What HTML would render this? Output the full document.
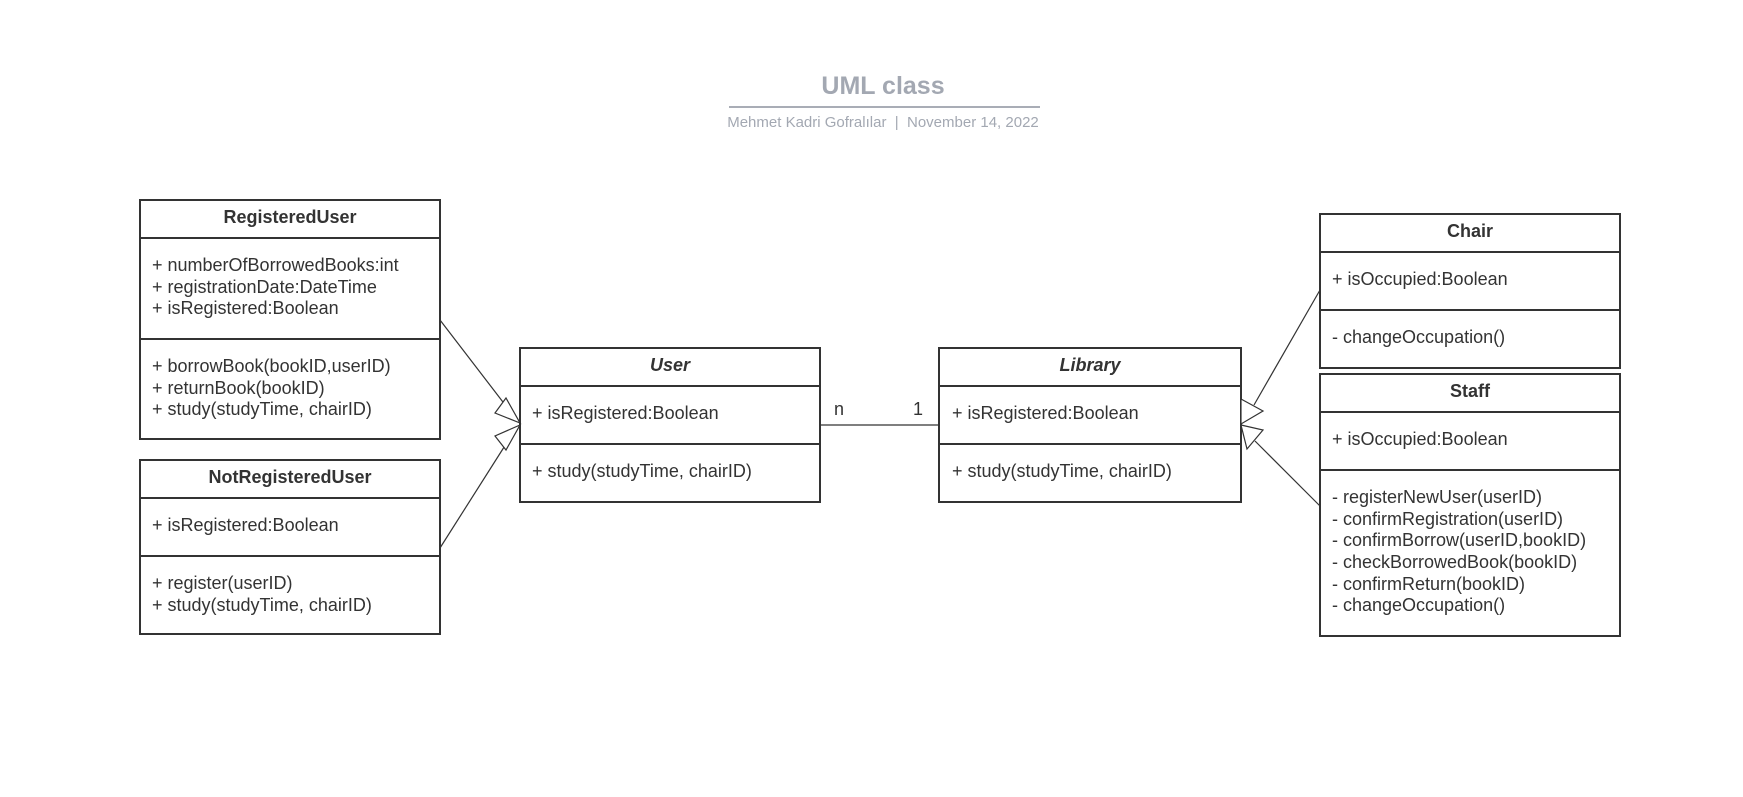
<!DOCTYPE html>
<html><head><meta charset="utf-8"><style>
html,body{margin:0;padding:0;background:#fff;}
svg{display:block;}
text{font-family:"Liberation Sans",sans-serif;fill:#333;}
.t{font-size:18px;}
.h{font-size:18px;font-weight:bold;}
</style></head><body>
<svg width="1743" height="797" viewBox="0 0 1743 797" xmlns="http://www.w3.org/2000/svg">
<text x="883" y="94" text-anchor="middle" style="font-size:25px;font-weight:bold;fill:#a3a8b2">UML class</text>
<line x1="729" y1="107" x2="1040" y2="107" stroke="#a9adb6" stroke-width="2"/>
<text x="883" y="127" text-anchor="middle" style="font-size:15px;fill:#a3a8b2;white-space:pre">Mehmet Kadri Gofralılar  |  November 14, 2022</text>

<g fill="#fff" stroke="#333" stroke-width="2">
<rect x="140" y="200" width="300" height="239"/><line x1="140" y1="238" x2="440" y2="238"/><line x1="140" y1="339" x2="440" y2="339"/>
<rect x="140" y="460" width="300" height="174"/><line x1="140" y1="498" x2="440" y2="498"/><line x1="140" y1="556" x2="440" y2="556"/>
<rect x="520" y="348" width="300" height="154"/><line x1="520" y1="386" x2="820" y2="386"/><line x1="520" y1="444" x2="820" y2="444"/>
<rect x="939" y="348" width="302" height="154"/><line x1="939" y1="386" x2="1241" y2="386"/><line x1="939" y1="444" x2="1241" y2="444"/>
<rect x="1320" y="214" width="300" height="154"/><line x1="1320" y1="252" x2="1620" y2="252"/><line x1="1320" y1="310" x2="1620" y2="310"/>
<rect x="1320" y="374" width="300" height="262"/><line x1="1320" y1="412" x2="1620" y2="412"/><line x1="1320" y1="470" x2="1620" y2="470"/>
</g>

<g stroke="#333" stroke-width="1.2" fill="#fff">
<line x1="440" y1="320" x2="506" y2="406"/>
<line x1="440" y1="548" x2="506" y2="444"/>
<polygon points="495,413 506,398 520,423"/>
<polygon points="495,436 506,450 520,425"/>
<line x1="820" y1="425" x2="939" y2="425"/>
<line x1="1320" y1="290" x2="1254" y2="405"/>
<line x1="1320" y1="506" x2="1255" y2="441"/>
<polygon points="1241,399 1263,411 1241,424"/>
<polygon points="1241,425 1263,430 1247,449"/>
</g>

<text class="h" x="290" y="223" text-anchor="middle">RegisteredUser</text>
<text class="t" x="152" y="271">+ numberOfBorrowedBooks:int</text>
<text class="t" x="152" y="293">+ registrationDate:DateTime</text>
<text class="t" x="152" y="314">+ isRegistered:Boolean</text>
<text class="t" x="152" y="372">+ borrowBook(bookID,userID)</text>
<text class="t" x="152" y="394">+ returnBook(bookID)</text>
<text class="t" x="152" y="415">+ study(studyTime, chairID)</text>

<text class="h" x="290" y="483" text-anchor="middle">NotRegisteredUser</text>
<text class="t" x="152" y="531">+ isRegistered:Boolean</text>
<text class="t" x="152" y="589">+ register(userID)</text>
<text class="t" x="152" y="611">+ study(studyTime, chairID)</text>

<text class="h" x="670" y="371" text-anchor="middle" font-style="italic">User</text>
<text class="t" x="532" y="419">+ isRegistered:Boolean</text>
<text class="t" x="532" y="477">+ study(studyTime, chairID)</text>

<text class="h" x="1090" y="371" text-anchor="middle" font-style="italic">Library</text>
<text class="t" x="952" y="419">+ isRegistered:Boolean</text>
<text class="t" x="952" y="477">+ study(studyTime, chairID)</text>

<text class="t" x="834" y="415">n</text>
<text class="t" x="913" y="415">1</text>

<text class="h" x="1470" y="237" text-anchor="middle">Chair</text>
<text class="t" x="1332" y="285">+ isOccupied:Boolean</text>
<text class="t" x="1332" y="343">- changeOccupation()</text>

<text class="h" x="1470" y="397" text-anchor="middle">Staff</text>
<text class="t" x="1332" y="445">+ isOccupied:Boolean</text>
<text class="t" x="1332" y="503">- registerNewUser(userID)</text>
<text class="t" x="1332" y="525">- confirmRegistration(userID)</text>
<text class="t" x="1332" y="546">- confirmBorrow(userID,bookID)</text>
<text class="t" x="1332" y="568">- checkBorrowedBook(bookID)</text>
<text class="t" x="1332" y="590">- confirmReturn(bookID)</text>
<text class="t" x="1332" y="611">- changeOccupation()</text>
</svg>
</body></html>
